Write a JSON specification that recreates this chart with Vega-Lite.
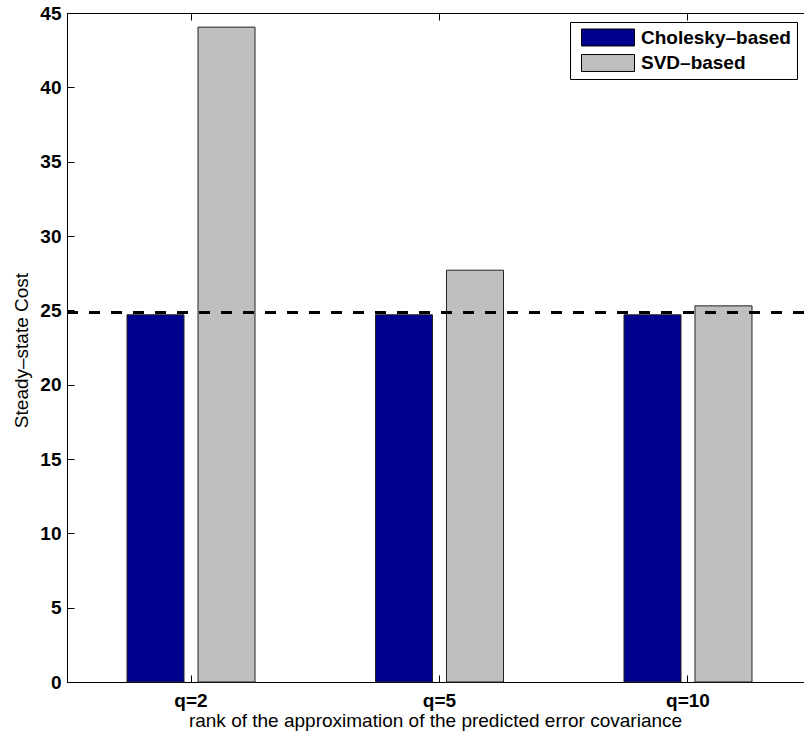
{
  "$schema": "https://vega.github.io/schema/vega-lite/v6.json",
  "autosize": {"type": "none"},
  "width": 737,
  "height": 669,
  "padding": {"left": 67, "top": 13, "right": 0, "bottom": 55},
  "background": "white",
  "view": {"stroke": "transparent", "strokeWidth": 0},
  "config": {
    "font": "Liberation Sans",
    "view": {"stroke": "transparent", "strokeWidth": 0},
    "axis": {"domainColor": "black", "domainWidth": 1, "tickColor": "black", "labelColor": "black", "titleColor": "black", "grid": false}
  },
  "data": {
    "values": [
      {"q": "q=2", "method": "Cholesky–based", "cost": 24.7},
      {"q": "q=2", "method": "SVD–based", "cost": 44.05},
      {"q": "q=5", "method": "Cholesky–based", "cost": 24.7},
      {"q": "q=5", "method": "SVD–based", "cost": 27.7},
      {"q": "q=10", "method": "Cholesky–based", "cost": 24.7},
      {"q": "q=10", "method": "SVD–based", "cost": 25.3}
    ]
  },
  "layer": [
    {
      "mark": {"type": "bar", "stroke": "#222", "strokeWidth": 1},
      "encoding": {
        "x": {
          "field": "q", "type": "nominal", "sort": ["q=2", "q=5", "q=10"],
          "scale": {"paddingInner": 0.4849, "paddingOuter": 0.2254, "align": 0.5357},
          "axis": {
            "title": "rank of the approximation of the predicted error covariance",
            "labelAngle": 0, "labelFontSize": 19, "labelFontWeight": "bold",
            "labelBaseline": "alphabetic", "labelPadding": 31.5,
            "tickSize": -7, "domain": true,
            "titleFontSize": 19, "titleFontWeight": "normal",
            "titleX": 368, "titleY": 44, "titleBaseline": "alphabetic", "titleAlign": "center"
          }
        },
        "xOffset": {
          "field": "method", "type": "nominal",
          "scale": {"paddingInner": 0.197, "paddingOuter": 0}
        },
        "y": {
          "field": "cost", "type": "quantitative",
          "scale": {"domain": [0, 45], "nice": false},
          "axis": {
            "title": "Steady–state Cost",
            "values": [0, 5, 10, 15, 20, 25, 30, 35, 40, 45],
            "labelFontSize": 19, "labelFontWeight": "bold", "labelPadding": 13,
            "tickSize": -7, "domain": true,
            "titleFontSize": 19, "titleFontWeight": "normal",
            "titleX": -40, "titleY": 337, "titleBaseline": "alphabetic", "titleAlign": "center"
          }
        },
        "color": {
          "field": "method", "type": "nominal",
          "scale": {"domain": ["Cholesky–based", "SVD–based"], "range": ["#00008F", "#BFBFBF"]},
          "legend": {
            "title": null,
            "orient": "none", "legendX": 503, "legendY": 9, "direction": "vertical",
            "symbolType": "M-1,-0.32H1V0.32H-1Z", "symbolSize": 2809,
            "symbolStrokeColor": "black", "symbolStrokeWidth": 1,
            "clipHeight": 19, "rowPadding": 5.5,
            "labelFontSize": 19, "labelFontWeight": "bold", "labelColor": "black", "labelOffset": 6,
            "padding": 6, "symbolOffset": 5,
            "strokeColor": "black", "fillColor": "white"
          }
        }
      }
    },
    {
      "mark": {"type": "bar", "opacity": 0},
      "encoding": {
        "x": {
          "field": "q", "type": "nominal", "sort": ["q=2", "q=5", "q=10"],
          "axis": {"orient": "top", "labels": false, "domain": true, "tickSize": -7, "title": null}
        },
        "y": {"field": "cost", "type": "quantitative"}
      }
    },
    {
      "data": {"values": [{"ref": 24.85}]},
      "mark": {"type": "rule", "color": "black", "strokeWidth": 3, "strokeDash": [11, 11]},
      "encoding": {
        "y": {"field": "ref", "type": "quantitative"}
      }
    }
  ],
  "resolve": {"axis": {"x": "independent"}}
}
